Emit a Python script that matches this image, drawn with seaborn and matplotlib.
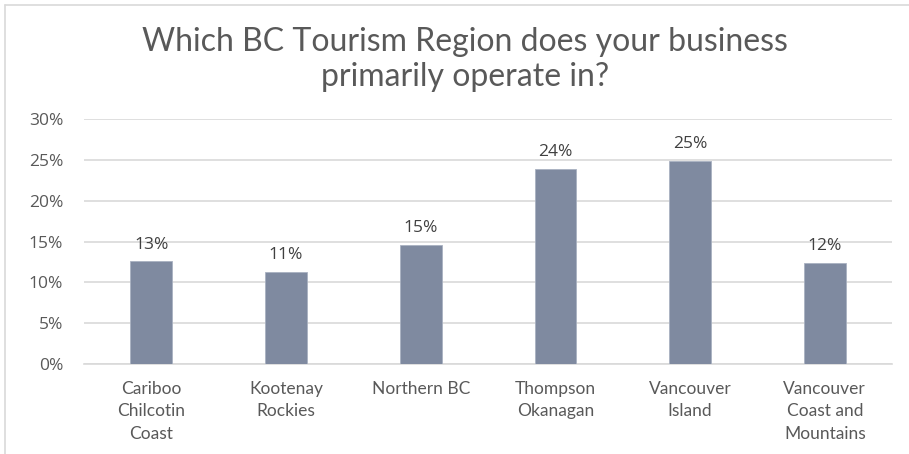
import matplotlib
matplotlib.use("Agg")
import matplotlib.pyplot as plt
import seaborn as sns
import pandas as pd
from matplotlib.lines import Line2D
from matplotlib.ticker import FuncFormatter, MultipleLocator

# Survey results: share of businesses by primary BC tourism region
regions = [
    "Cariboo\nChilcotin\nCoast",
    "Kootenay\nRockies",
    "Northern BC",
    "Thompson\nOkanagan",
    "Vancouver\nIsland",
    "Vancouver\nCoast and\nMountains",
]
shares = [12.6, 11.3, 14.6, 23.9, 24.9, 12.4]

title = "Which BC Tourism Region does your business\nprimarily operate in?"

bar_color = "#7F8AA0"
text_color = "#595959"
grid_color = "#D9D9D9"

sns.set_theme(style="white")
plt.rcParams["font.family"] = ["Lato", "DejaVu Sans"]

df = pd.DataFrame({"region": regions, "share": shares})

fig = plt.figure(figsize=(9.09, 4.54), dpi=100)
ax = fig.add_axes([0.0924, 0.198, 0.889, 0.54])

sns.barplot(data=df, x="region", y="share", color=bar_color, width=0.31,
            saturation=1, ax=ax, zorder=3)
for p in ax.patches:
    p.set_edgecolor("#A9B1C1")
    p.set_linewidth(0.6)

ax.set_ylim(0, 30)
ax.yaxis.set_major_locator(MultipleLocator(5))
ax.yaxis.set_major_formatter(FuncFormatter(lambda v, _: f"{v:.0f}%"))
ax.grid(axis="y", color=grid_color, linewidth=1.2, zorder=0)
ax.set_axisbelow(True)
for side in ["top", "right", "left"]:
    ax.spines[side].set_visible(False)
ax.spines["bottom"].set_color(grid_color)
ax.spines["bottom"].set_linewidth(1.2)
ax.set_xlabel("")
ax.set_ylabel("")
ax.tick_params(axis="y", length=0, pad=15, labelsize=12.5, labelcolor=text_color)
ax.tick_params(axis="x", length=0, pad=12, labelsize=12.5, labelcolor=text_color)
for lbl in ax.get_yticklabels():
    lbl.set_fontfamily(["Open Sans", "DejaVu Sans"])
for lbl in ax.get_xticklabels():
    lbl.set_linespacing(1.5)
    lbl.set_verticalalignment("top")

# value labels above each bar
for i, v in enumerate(shares):
    ax.annotate(f"{v:.0f}%", (i, v), xytext=(0, 6), textcoords="offset points",
                ha="center", va="bottom", fontsize=12.5, color="#404040",
                family=["Open Sans", "DejaVu Sans"])

fig.text(0.512, 0.94, title, ha="center", va="top", fontsize=23,
         color=text_color, linespacing=1.2)

# light chart-area border along the left and top
fig.add_artist(Line2D([5 / 909, 5 / 909], [0, 1 - 5 / 454], color=grid_color,
                      linewidth=1.2, transform=fig.transFigure))
fig.add_artist(Line2D([5 / 909, 1], [1 - 5 / 454, 1 - 5 / 454], color=grid_color,
                      linewidth=1.2, transform=fig.transFigure))

fig.savefig("out.png", dpi=100, facecolor="white")
